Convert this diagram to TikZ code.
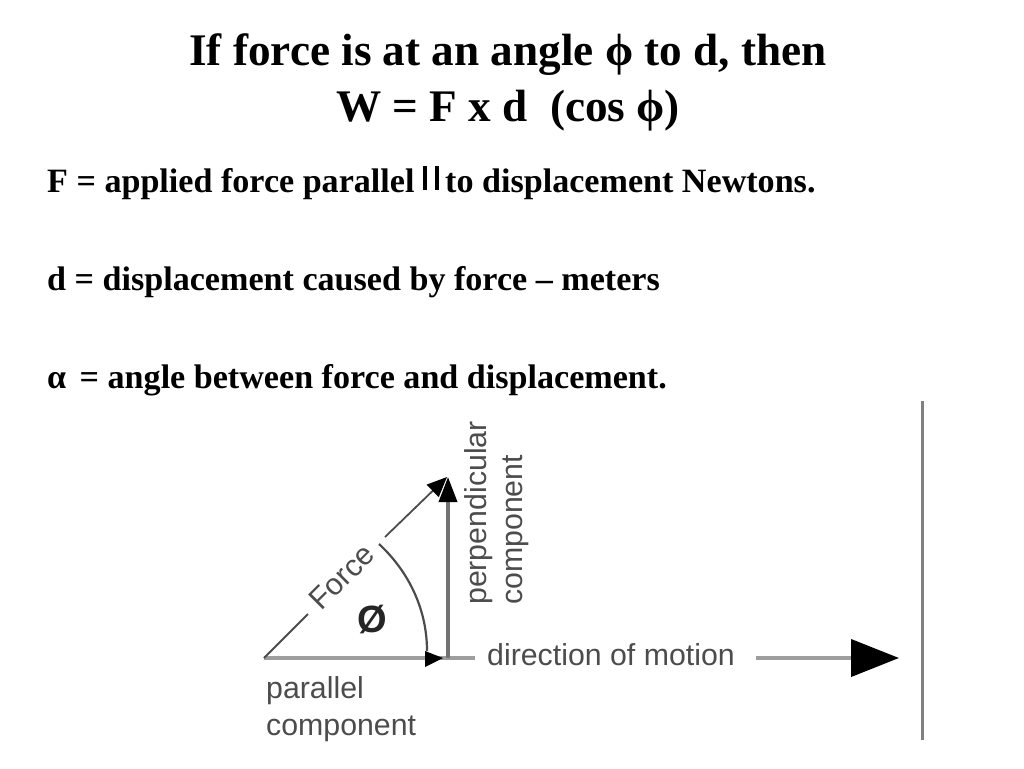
\documentclass[tikz,border=0pt]{standalone}
\usepackage{fontspec}
\setmainfont{Liberation Serif}
\setsansfont{Liberation Sans}
\usetikzlibrary{arrows.meta}
\definecolor{figtext}{gray}{0.3}
\definecolor{figline}{gray}{0.62}
\tikzset{
  titletext/.style={font=\fontsize{45.2}{45}\selectfont\bfseries, anchor=base, inner sep=0pt},
  bodytext/.style={font=\fontsize{34.1}{34}\selectfont\bfseries, anchor=base west, inner sep=0pt},
  figlabel/.style={font=\fontsize{30.3}{30}\selectfont\sffamily, text=figtext, inner sep=0pt},
  thinline/.style={draw=figtext, line width=1.8pt},
  thickline/.style={draw=figline, line width=4pt},
}
\begin{document}
\begin{tikzpicture}[x=1pt,y=-1pt]
\useasboundingbox (0,0) rectangle (1024,768);
% titles
\node[titletext] (title1) at (508,66) {If force is at an angle ϕ to d, then};
\node[titletext] (title2) at (508,121) {W = F x d\ \ (cos ϕ)};
% body
\node[bodytext] (lineFa) at (47,192) {F = applied force parallel};
\node[bodytext] (lineFb) at (445,192) {to displacement Newtons.};
\node[bodytext] (lineD) at (47,290) {d = displacement caused by force – meters};
\node[bodytext] (lineA) at (47,388) {α\kern5pt{} = angle between force and displacement.};
% parallel sign
\coordinate (para1t) at (425,166); \coordinate (para1b) at (425,190);
\coordinate (para2t) at (437,166); \coordinate (para2b) at (437,190);
\draw[line width=3.2pt] (para1t) -- (para1b);
\draw[line width=3.2pt] (para2t) -- (para2b);
% frame line
\coordinate (frameT) at (922,401); \coordinate (frameB) at (922,740);
\draw[draw=black!50, line width=3pt] (frameT) -- (frameB);
% vector figure
\coordinate (origin) at (264,658);
\coordinate (foot) at (475,658);
\coordinate (tip) at (447,477);
\coordinate (perpTip) at (448,477);
\coordinate (base) at (448,658);
\coordinate (forceA) at (308,614);
\coordinate (forceB) at (385,537);
\coordinate (arcS) at (379,544);
\coordinate (arcE) at (427,651);
\coordinate (headP) at (443,658);
\coordinate (motionS) at (756,658);
\coordinate (motionE) at (899,658);
\draw[thickline] (origin) -- (foot);
\draw[thinline] (origin) -- (forceA);
\draw[thinline, -{Triangle[length=20pt,width=17pt,color=black]}] (forceB) -- (tip);
\draw[draw=black!55, line width=3.5pt, -{Triangle[length=25pt,width=18pt,color=black]}] (base) -- (perpTip);
\draw[thinline, line width=2.2pt] (arcS) .. controls (405,568) and (427,605) .. (arcE);
\fill (425,651) -- (headP) -- (425,667) -- cycle;
\draw[thickline, -{Triangle[length=48pt,width=37pt,color=black]}] (motionS) -- (motionE);
% figure labels
\node[figlabel, rotate=45] (force) at (342,577) {Force};
\node[figlabel, font=\fontsize{38}{38}\selectfont\sffamily\bfseries, text=black!85] (phi) at (372,620) {Ø};
\node[figlabel, rotate=90, anchor=base west] (perp) at (486,605) {perpendicular};
\node[figlabel, rotate=90, anchor=base west] (comp) at (522,605) {component};
\node[figlabel, anchor=base west] (motion) at (487,665) {direction of motion};
\node[figlabel, anchor=base west] (par) at (266,698) {parallel};
\node[figlabel, anchor=base west] (parcomp) at (266,735) {component};
\end{tikzpicture}
\end{document}
